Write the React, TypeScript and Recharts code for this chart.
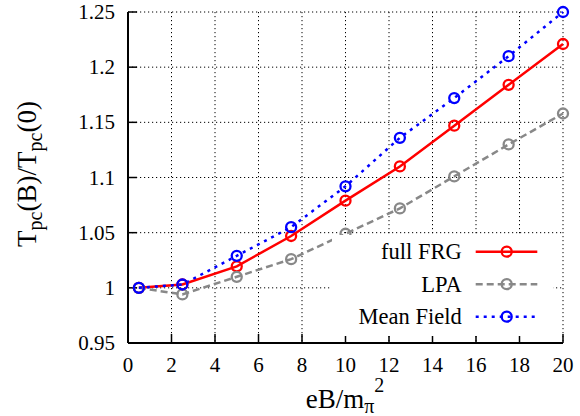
import React from "react";
import {
  CartesianGrid,
  Line,
  LineChart,
  XAxis,
  YAxis,
} from "recharts";

// eB / m_pi^2 sample points and the three T_pc(B)/T_pc(0) curves.
const fields = [0.5, 2.5, 5, 7.5, 10, 12.5, 15, 17.5, 20];
const fullFrg = [1.0, 1.003, 1.0195, 1.047, 1.079, 1.11, 1.147, 1.184, 1.221];
const lpa = [1.0, 0.994, 1.01, 1.026, 1.049, 1.072, 1.101, 1.13, 1.158];
const meanField = [1.0, 1.003, 1.029, 1.055, 1.092, 1.136, 1.172, 1.21, 1.25];

const xTicks = [0, 2, 4, 6, 8, 10, 12, 14, 16, 18, 20];
const yTicks = [0.95, 1, 1.05, 1.1, 1.15, 1.2, 1.25];

const series = [
  { key: "frg", name: "full FRG", color: "#ff0000", dash: undefined },
  { key: "lpa", name: "LPA", color: "#888888", dash: "7 4" },
  { key: "mf", name: "Mean Field", color: "#0000ff", dash: "3 5" },
];

const data = fields.map((x, i) => ({
  x,
  frg: fullFrg[i],
  lpa: lpa[i],
  mf: meanField[i],
}));

const FONT = '"Liberation Serif", "Times New Roman", serif';
const axisLine = { stroke: "#000", strokeWidth: 2 };
const tickLine = { stroke: "#000", strokeWidth: 1.5 };

function BottomTick(props: any) {
  return (
    <text
      x={props.x}
      y={props.y}
      dy={14}
      textAnchor="middle"
      fontFamily={FONT}
      fontSize={21}
      fill="#000"
    >
      {props.payload.value}
    </text>
  );
}

function LeftTick(props: any) {
  return (
    <text
      x={props.x}
      y={props.y}
      dy={7}
      textAnchor="end"
      fontFamily={FONT}
      fontSize={21}
      fill="#000"
    >
      {props.payload.value}
    </text>
  );
}

function XLabel() {
  return (
    <text x={345} y={408} textAnchor="middle" fontFamily={FONT} fontSize={27} fill="#000">
      eB/m
      <tspan fontSize={20} dy={5}>π</tspan>
      <tspan fontSize={20} dy={-21}>2</tspan>
    </text>
  );
}

function YLabel() {
  return (
    <text
      x={36}
      y={174}
      transform="rotate(-90, 36, 174)"
      textAnchor="middle"
      fontFamily={FONT}
      fontSize={27}
      fill="#000"
    >
      T<tspan fontSize={20} dy={6}>pc</tspan>
      <tspan dy={-6}>(B)/T</tspan>
      <tspan fontSize={20} dy={6}>pc</tspan>
      <tspan dy={-6}>(0)</tspan>
    </text>
  );
}

// gnuplot-style key: right aligned names, line sample with a marker, white box over the grid
function Key() {
  return (
    <svg
      width={221}
      height={101}
      style={{ position: "absolute", left: 332, top: 235, background: "#fff" }}
    >
      {series.map((s, i) => {
        const y = 16.7 + i * 32.5;
        return (
          <g key={s.key}>
            <text
              x={129.7}
              y={y + 7.6}
              textAnchor="end"
              fontFamily={FONT}
              fontSize={22.5}
              fill="#000"
            >
              {s.name}
            </text>
            <line
              x1={143.7}
              x2={205.3}
              y1={y}
              y2={y}
              stroke={s.color}
              strokeWidth={2.5}
              strokeDasharray={s.dash}
            />
            <circle cx={174.7} cy={y} r={5} fill="none" stroke={s.color} strokeWidth={2.3} />
          </g>
        );
      })}
    </svg>
  );
}

export default function App() {
  return (
    <div style={{ position: "absolute", left: 0, top: 0, width: 580, height: 416 }}>
      <LineChart
        width={580}
        height={416}
        data={data}
        margin={{ top: 12, right: 17, bottom: 0, left: 0 }}
      >
        <CartesianGrid stroke="#000" strokeDasharray="1.2 2.8" strokeWidth={1} />
        <XAxis
          dataKey="x"
          type="number"
          domain={[0, 20]}
          ticks={xTicks}
          height={73}
          tickSize={-9}
          tickMargin={23.5}
          tick={<BottomTick />}
          axisLine={axisLine}
          tickLine={tickLine}
          label={{ content: () => <XLabel /> }}
        />
        <XAxis
          xAxisId="top"
          orientation="top"
          type="number"
          domain={[0, 20]}
          ticks={xTicks}
          height={0}
          tickSize={-9}
          tickFormatter={() => ""}
          axisLine={axisLine}
          tickLine={tickLine}
        />
        <YAxis
          type="number"
          domain={[0.95, 1.25]}
          ticks={yTicks}
          width={128}
          tickSize={-9}
          tickMargin={22}
          tick={<LeftTick />}
          axisLine={axisLine}
          tickLine={tickLine}
          label={{ content: () => <YLabel /> }}
        />
        <YAxis
          yAxisId="right"
          orientation="right"
          type="number"
          domain={[0.95, 1.25]}
          ticks={yTicks}
          width={0}
          tickSize={-9}
          tickFormatter={() => ""}
          axisLine={axisLine}
          tickLine={tickLine}
        />
        {series.map((s) => (
          <Line
            key={s.key}
            dataKey={s.key}
            name={s.name}
            type="linear"
            stroke={s.color}
            strokeWidth={2.5}
            strokeDasharray={s.dash}
            dot={{ r: 5, stroke: s.color, strokeWidth: 2.3, fill: "none", strokeDasharray: "" }}
            activeDot={false}
            isAnimationActive={false}
          />
        ))}
      </LineChart>
      <Key />
    </div>
  );
}
